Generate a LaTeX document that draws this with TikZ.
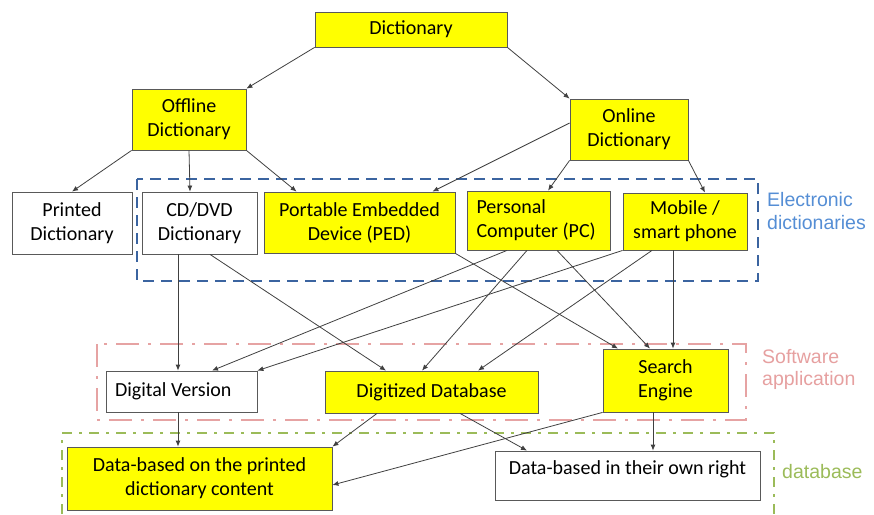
\documentclass[tikz,border=0pt]{standalone}
\usepackage{fontspec}
\setmainfont{Carlito}
\newfontfamily\labelfont{Liberation Sans}
\usetikzlibrary{arrows.meta}

\definecolor{boxyellow}{HTML}{FFFF00}
\definecolor{boxgray}{HTML}{595959}
\definecolor{linkgray}{HTML}{404040}
\definecolor{elecblue}{HTML}{3B64A0}
\definecolor{eleclabel}{HTML}{558ED5}
\definecolor{softpink}{HTML}{E6A3A3}
\definecolor{softlabel}{HTML}{E6A0A0}
\definecolor{datagreen}{HTML}{9BBB59}

\begin{document}
\begin{tikzpicture}[x=1pt, y=-1pt,
	box/.style={draw=boxgray, line width=0.8pt, inner sep=0pt, align=center, font=\fontsize{20}{24}\selectfont},
	ybox/.style={box, fill=boxyellow},
	wbox/.style={box, fill=white},
	link/.style={draw=linkgray, line width=0.8pt, -{Latex[length=6pt,width=5pt]}},
	grouplabel/.style={anchor=west, align=left, inner sep=0pt, font=\labelfont\fontsize{19.5}{22.5}\selectfont}]

	% fix the page size
	\useasboundingbox (0,0) rectangle (874,514);

	% groups first, so the boxes sit on top
	\draw[elecblue, line width=2.5pt, dash pattern=on 11pt off 7pt] (137,179) rectangle (758,281);
	\draw[softpink, line width=2.5pt, dash pattern=on 23pt off 9pt on 3pt off 9pt] (97,344) rectangle (746,420);
	\draw[datagreen, line width=2.5pt, dash pattern=on 10pt off 7pt on 3pt off 7pt] (62,514) -- (62,433) -- (774,433) -- (774,514);

	% top level
	\node[ybox, minimum width=192pt, minimum height=35pt] (dict) at (411,29.5) {Dictionary};
	\node[ybox, minimum width=114pt, minimum height=61pt] (offline) at (189,119.5) {Offline\\Dictionary};
	\node[ybox, minimum width=118pt, minimum height=61pt] (online) at (629,129.5) {Online\\Dictionary};

	% media
	\node[wbox, minimum width=120pt, minimum height=62pt] (printed) at (72,223) {Printed\\Dictionary};
	\node[wbox, minimum width=115pt, minimum height=62pt] (cddvd) at (199.5,223) {CD/DVD\\Dictionary};
	\node[ybox, minimum width=191pt, minimum height=61pt] (ped) at (359.5,222.5) {Portable Embedded\\Device (PED)};
	\node[ybox, align=flush left, text width=124pt, inner xsep=9.5pt, minimum height=59pt] (pc) at (538.5,220.5) {Personal\\Computer (PC)};
	\node[ybox, minimum width=124pt, minimum height=57pt] (mobile) at (685,221.5) {Mobile /\\smart phone};

	% software
	\node[wbox, align=flush left, text width=133pt, inner xsep=9pt, minimum height=41pt] (digver) at (181.5,391.5) {Digital Version};
	\node[ybox, minimum width=213pt, minimum height=42pt] (digdb) at (431.5,392) {Digitized Database};
	\node[ybox, minimum width=125pt, minimum height=63pt] (search) at (665.5,380.5) {Search\\Engine};

	% data
	\node[ybox, minimum width=265pt, minimum height=63pt] (printdata) at (199.5,478.5) {Data-based on the printed\\dictionary content};
	\node[wbox, minimum width=265pt, minimum height=49pt] (owndata) at (627.5,475.5) {Data-based in their own right\\[-8pt]\mbox{}};

	% group labels
	\node[grouplabel, text=eleclabel] (eleclbl) at (767,211) {Electronic\\dictionaries};
	\node[grouplabel, text=softlabel] (softlbl) at (762,369.5) {Software\\application};
	\node[grouplabel, text=datagreen] (datalbl) at (782,472) {database};

	% links from the top
	\draw[link] (dict.south west) -- (offline.north east);
	\draw[link] (dict.south east) -- (online.north west);
	\draw[link] (offline.south west) -- (printed.north);
	\draw[link] (offline.south) -- ([xshift=-9.5pt]cddvd.north);
	\draw[link] (offline.south east) -- ([xshift=33pt]ped.north west);
	\draw[link] ([yshift=6.5pt]online.west) -- ([xshift=-23pt]ped.north east);
	\draw[link] (online.south west) -- ([xshift=9.5pt]pc.north);
	\draw[link] (online.south east) -- ([xshift=20pt]mobile.north);

	% media to software
	\draw[link] ([xshift=-21.5pt]cddvd.south) -- ([xshift=-3.5pt]digver.north);
	\draw[link] ([xshift=10.5pt]cddvd.south) -- ([xshift=-45.5pt]digdb.north);
	\draw[link] (ped.south east) -- ([xshift=-47.5pt]search.north);
	\draw[link] ([xshift=-31.5pt]pc.south) -- ([xshift=30.5pt]digver.north);
	\draw[link] ([xshift=-11.5pt]pc.south) -- ([xshift=-9.5pt]digdb.north);
	\draw[link] ([xshift=18.5pt]pc.south) -- ([xshift=-15.5pt]search.north);
	\draw[link] (mobile.south west) -- (digver.north east);
	\draw[link] ([xshift=-33pt]mobile.south) -- ([xshift=46.5pt]digdb.north);
	\draw[link] ([xshift=-12pt]mobile.south) -- ([xshift=7.5pt]search.north);

	% software to data
	\draw[link] ([xshift=-3.5pt]digver.south) -- ([xshift=-21.5pt]printdata.north);
	\draw[link] ([xshift=-54.5pt]digdb.south) -- (printdata.north east);
	\draw[link] ([xshift=28.5pt]digdb.south) -- ([xshift=-100.5pt]owndata.north);
	\draw[link] (search.south west) -- ([yshift=-6.5pt]printdata.east);
	\draw[link] ([xshift=-12.5pt]search.south) -- ([xshift=25.5pt]owndata.north);

\end{tikzpicture}
\end{document}
